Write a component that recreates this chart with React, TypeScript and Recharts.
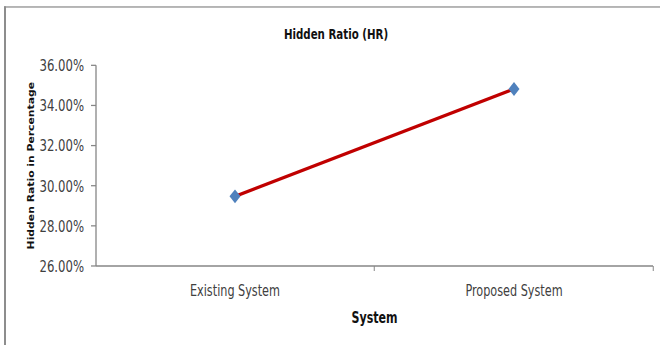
import React from 'react';
import { LineChart, Line, XAxis, YAxis } from 'recharts';

// Hidden ratio per system, in percent
const categories = ['Existing System', 'Proposed System'];
const hiddenRatio = [29.47, 34.82];
const yTicks = [26, 28, 30, 32, 34, 36];

const data = categories.map((system, i) => ({ system, hr: hiddenRatio[i] }));

const FONT = "'DejaVu Sans Condensed', 'Open Sans', sans-serif";
const AXIS_GREY = '#868686';
const TEXT_GREY = '#404040';

// The chart is laid out on a shorter canvas and stretched vertically,
// giving the tall, narrow lettering of the original office chart.
const OUT_W = 660;
const OUT_H = 345;
const BASE_H = 272;
const STRETCH = OUT_H / BASE_H;

const Diamond = (props: any) => {
  const { cx, cy } = props;
  if (cx == null || cy == null) return null;
  return (
    <path
      d={`M${cx},${cy - 5.5} L${cx + 5.5},${cy} L${cx},${cy + 5.5} L${cx - 5.5},${cy} Z`}
      fill="#4F81BD"
    />
  );
};

// Category label plus a tick mark on the boundary to the right of its band
const CategoryTick = (props: any) => {
  const { x, y, payload, width, visibleTicksCount } = props;
  const half = width && visibleTicksCount ? width / (2 * visibleTicksCount) : 0;
  const axisY = y - 15;
  return (
    <g>
      {half > 0 && (
        <line
          x1={x + half}
          x2={x + half}
          y1={axisY}
          y2={axisY + 4}
          stroke={AXIS_GREY}
          strokeWidth={1}
        />
      )}
      <text
        x={x}
        y={y}
        dy="0.71em"
        textAnchor="middle"
        fontFamily={FONT}
        fontSize={12.5}
        fill={TEXT_GREY}
      >
        {payload.value}
      </text>
    </g>
  );
};

const YLabel = (props: any) => {
  const { viewBox } = props;
  const x = viewBox.x + 31;
  const y = viewBox.y + viewBox.height / 2;
  return (
    <text
      x={x}
      y={y}
      transform={`rotate(-90, ${x}, ${y})`}
      textAnchor="middle"
      dominantBaseline="central"
      fontFamily={FONT}
      fontSize={9.5}
      fontWeight="bold"
      fill="#111"
    >
      Hidden Ratio in Percentage
    </text>
  );
};

const XLabel = (props: any) => {
  const { viewBox } = props;
  const x = viewBox.x + viewBox.width / 2;
  return (
    <text
      x={x}
      y={viewBox.y + 40.6}
      textAnchor="middle"
      dominantBaseline="central"
      fontFamily={FONT}
      fontSize={12.3}
      fontWeight="bold"
      fill="#111"
    >
      System
    </text>
  );
};

export default function App() {
  return (
    <div
      style={{
        position: 'absolute',
        left: 0,
        top: 0,
        width: OUT_W,
        height: OUT_H,
        overflow: 'hidden',
        background: '#fff',
      }}
    >
      <div
        style={{
          position: 'absolute',
          left: 0,
          top: 0,
          width: OUT_W,
          height: BASE_H,
          transform: `scaleY(${STRETCH})`,
          transformOrigin: '0 0',
        }}
      >
        <div
          style={{
            position: 'absolute',
            left: 4,
            top: 4.7,
            width: 720,
            height: 340,
            borderLeft: '2px solid #8d8d8d',
            borderTop: '1.6px solid #8d8d8d',
          }}
        />
        <div
          style={{
            position: 'absolute',
            left: 236,
            top: 19,
            width: 200,
            textAlign: 'center',
            fontFamily: FONT,
            fontSize: 11.4,
            fontWeight: 'bold',
            color: '#111',
            lineHeight: '16px',
          }}
        >
          Hidden Ratio (HR)
        </div>
        <div style={{ position: 'absolute', left: 0, top: 0 }}>
          <LineChart
            width={OUT_W}
            height={BASE_H}
            data={data}
            margin={{ top: 51.5, right: 7, bottom: 15.3, left: 0 }}
          >
            <XAxis
              dataKey="system"
              type="category"
              padding={{ left: 139, right: 139 }}
              axisLine={{ stroke: AXIS_GREY, strokeWidth: 1.2 }}
              tickLine={false}
              tickSize={5}
              tickMargin={10}
              height={47}
              interval={0}
              tick={<CategoryTick />}
              label={<XLabel />}
            />
            <YAxis
              type="number"
              domain={[26, 36]}
              ticks={yTicks}
              interval={0}
              width={96}
              axisLine={{ stroke: AXIS_GREY, strokeWidth: 1.3 }}
              tickLine={{ stroke: AXIS_GREY }}
              tickSize={5}
              tickMargin={7}
              tickFormatter={(v: number) => `${v.toFixed(2)}%`}
              tick={{ fontFamily: FONT, fontSize: 13, fill: TEXT_GREY }}
              label={<YLabel />}
            />
            <Line
              type="linear"
              dataKey="hr"
              stroke="#C00000"
              strokeWidth={2.6}
              dot={<Diamond />}
              activeDot={false}
              isAnimationActive={false}
            />
          </LineChart>
        </div>
      </div>
    </div>
  );
}
